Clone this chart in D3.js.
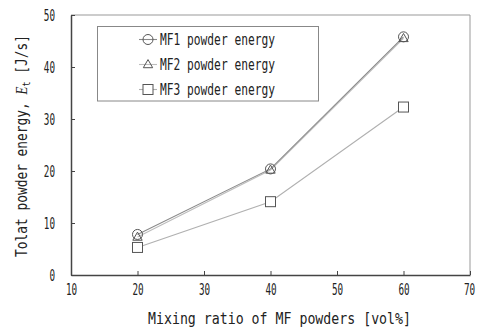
<!DOCTYPE html>
<html>
<head>
<meta charset="utf-8">
<script src="https://cdn.jsdelivr.net/npm/d3@7"></script>
<style>
  body { margin: 0; background: #fff; }
  text { font-family: "DejaVu Sans Mono", "Liberation Mono", monospace; fill: #222; }
</style>
</head>
<body>
<svg width="480" height="328"></svg>
<script>
// data
var ratios = [20, 40, 60];
var mf1 = [7.8, 20.4, 45.8];
var mf2 = [7.3, 20.2, 45.5];
var mf3 = [5.3, 14.1, 32.3];
var seriesNames = ["MF1 powder energy", "MF2 powder energy", "MF3 powder energy"];
var xTicks = [10, 20, 30, 40, 50, 60, 70];
var yTicks = [0, 10, 20, 30, 40, 50];

var svg = d3.select("svg"),
    plotL = 71, plotR = 470, plotT = 15, plotB = 275;

var x = d3.scaleLinear().domain([10, 70]).range([plotL, plotR]);
var y = d3.scaleLinear().domain([0, 50]).range([plotB, plotT]);

// frame (top/right lighter)
svg.append("path")
  .attr("d", "M" + plotL + "," + plotT + "H" + plotR + "V" + plotB)
  .attr("fill", "none").attr("stroke", "#999").attr("stroke-width", 1);

var xAxis = svg.append("g").attr("transform", "translate(0," + plotB + ")")
  .call(d3.axisBottom(x).tickValues(xTicks).tickSizeInner(-4).tickSizeOuter(0).tickPadding(9));
var yAxis = svg.append("g").attr("transform", "translate(" + plotL + ",0)")
  .call(d3.axisLeft(y).tickValues(yTicks).tickSizeInner(-4).tickSizeOuter(0).tickPadding(16));

[xAxis, yAxis].forEach(function(a) {
  a.select(".domain").attr("stroke", "#444").attr("stroke-width", 1.5);
  a.selectAll(".tick line").attr("stroke", "#444");
  a.selectAll("text")
    .style("font-family", "'DejaVu Sans Mono', monospace")
    .style("font-size", "16px").attr("fill", "#222")
    .attr("textLength", function(d) { return String(d).length * 5.6; })
    .attr("lengthAdjust", "spacingAndGlyphs");
});
xAxis.selectAll(".tick:last-of-type text").attr("dx", -1);

var line = d3.line().x(function(d, i) { return x(ratios[i]); }).y(function(d) { return y(d); });

var series = [
  {vals: mf1, color: "#8a8a8a", shape: "circle"},
  {vals: mf2, color: "#bdbdbd", shape: "triangle"},
  {vals: mf3, color: "#b0b0b0", shape: "square"}
];

series.slice().reverse().forEach(function(s) {
  svg.append("path").datum(s.vals).attr("d", line)
    .attr("fill", "none").attr("stroke", s.color).attr("stroke-width", 1.1);
});

function marker(g, shape, cx, cy) {
  if (shape === "circle") {
    g.append("circle").attr("cx", cx).attr("cy", cy).attr("r", 5)
      .attr("fill", "none").attr("stroke", "#555").attr("stroke-width", 1);
  } else if (shape === "triangle") {
    g.append("path").attr("d", d3.symbol(d3.symbolTriangle, 38)())
      .attr("transform", "translate(" + cx + "," + (cy + 0.5) + ")")
      .attr("fill", "none").attr("stroke", "#555").attr("stroke-width", 1);
  } else {
    g.append("rect").attr("x", cx - 5).attr("y", cy - 5).attr("width", 10).attr("height", 10)
      .attr("fill", "#fff").attr("stroke", "#555").attr("stroke-width", 1);
  }
}

series.forEach(function(s) {
  s.vals.forEach(function(v, i) { marker(svg, s.shape, x(ratios[i]), y(v)); });
});

// legend
var legend = svg.append("g");
legend.append("rect").attr("x", 97.5).attr("y", 26.5).attr("width", 221).attr("height", 74.5)
  .attr("fill", "#fff").attr("stroke", "#888");
seriesNames.forEach(function(name, i) {
  var ly = 39.5 + i * 25;
  legend.append("line").attr("x1", 139).attr("x2", 157).attr("y1", ly).attr("y2", ly)
    .attr("stroke", series[i].color).attr("stroke-width", 1.1);
  marker(legend, series[i].shape, 148, ly);
  legend.append("text").attr("x", 160).attr("y", ly + 5.5)
    .style("font-size", "15.5px")
    .attr("textLength", 115).attr("lengthAdjust", "spacingAndGlyphs")
    .text(name);
});

// axis titles
svg.append("text").attr("x", 148).attr("y", 324)
  .style("font-size", "16.5px")
  .attr("textLength", 263).attr("lengthAdjust", "spacingAndGlyphs")
  .text("Mixing ratio of MF powders [vol%]");

var yt = svg.append("text")
  .attr("transform", "translate(27,257) rotate(-90)")
  .style("font-size", "16.5px")
  .attr("textLength", 222).attr("lengthAdjust", "spacingAndGlyphs");
yt.append("tspan").text("Tolat powder energy, ");
yt.append("tspan").style("font-family", "'Liberation Serif', serif").style("font-style", "italic").text("E");
yt.append("tspan").attr("dy", 3).style("font-size", "11px").text("t");
yt.append("tspan").attr("dy", -3).text(" [J/s]");
</script>
</body>
</html>
